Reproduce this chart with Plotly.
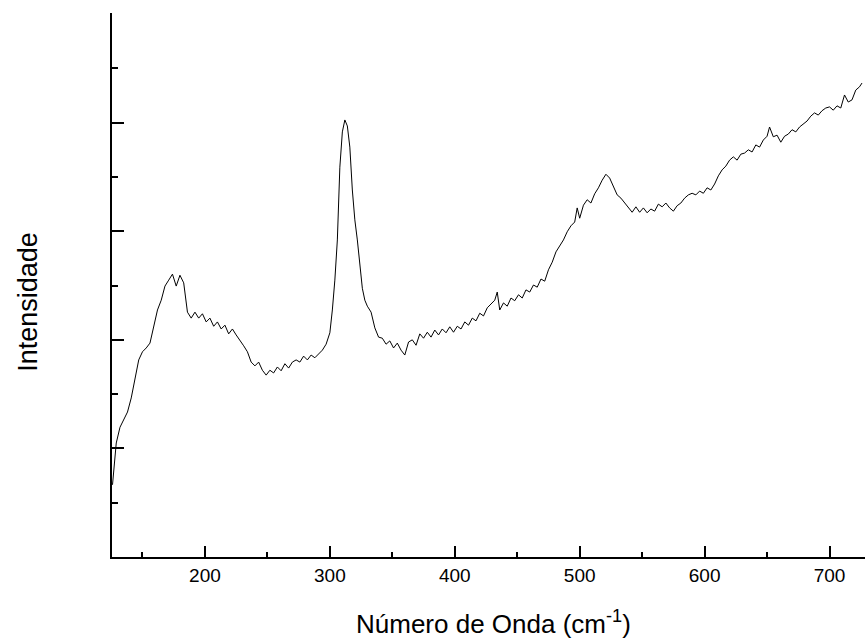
import plotly.graph_objects as go

wavenumber = [126, 129, 132, 135, 138, 141, 144, 147, 150, 153, 156, 159, 162, 165, 168, 171, 174, 177, 180, 183,
              186, 189, 192, 195, 198, 201, 204, 207, 210, 213, 216, 219, 222, 225, 228, 231, 234, 237, 240, 243,
              246, 249, 252, 255, 258, 261, 264, 267, 270, 273, 276, 279, 282, 285, 288, 291, 294, 297, 300, 302,
              304, 306, 308, 310, 312, 314, 316, 318, 320, 322, 324, 326, 328, 330, 333, 336, 339, 342, 345, 348,
              351, 354, 357, 360, 363, 366, 369, 372, 375, 378, 381, 384, 387, 390, 393, 396, 399, 402, 405, 408,
              411, 414, 417, 420, 423, 426, 429, 432, 434, 436, 439, 442, 445, 448, 451, 454, 457, 460, 463, 466,
              469, 472, 475, 478, 481, 484, 487, 490, 493, 496, 498, 500, 503, 506, 509, 512, 515, 518, 521, 524,
              527, 530, 533, 536, 539, 542, 545, 548, 551, 554, 557, 560, 563, 566, 569, 572, 575, 578, 581, 584,
              587, 590, 593, 596, 599, 602, 605, 608, 611, 614, 617, 620, 623, 626, 629, 632, 635, 638, 641, 644,
              647, 650, 652, 655, 658, 661, 664, 667, 670, 673, 676, 679, 682, 685, 688, 691, 694, 697, 700, 703,
              706, 709, 712, 715, 718, 721, 724, 726]

intensity = [133, 210, 239, 252, 267, 293, 330, 363, 378, 385, 394, 422, 455, 473, 499, 510, 521, 499, 519, 505,
             451, 440, 451, 440, 448, 433, 440, 425, 433, 420, 427, 411, 420, 409, 400, 389, 378, 359, 352, 359,
             344, 335, 344, 339, 350, 343, 356, 348, 359, 363, 359, 370, 363, 372, 367, 374, 381, 392, 413, 455,
             510, 584, 718, 783, 805, 794, 755, 676, 621, 584, 543, 495, 473, 462, 451, 422, 405, 403, 392, 398,
             385, 394, 381, 372, 396, 400, 390, 411, 403, 414, 405, 418, 409, 420, 413, 424, 414, 425, 420, 433,
             427, 440, 435, 449, 444, 459, 466, 473, 488, 455, 468, 462, 477, 472, 483, 477, 492, 488, 501, 497,
             512, 508, 529, 543, 562, 573, 584, 599, 610, 617, 643, 624, 648, 658, 652, 669, 680, 694, 705, 698,
             683, 667, 661, 652, 643, 635, 645, 635, 643, 634, 641, 637, 650, 645, 652, 643, 637, 647, 652, 661,
             667, 670, 667, 674, 670, 680, 676, 687, 702, 713, 720, 731, 737, 731, 742, 744, 750, 746, 759, 755,
             768, 775, 792, 774, 777, 764, 775, 779, 787, 783, 792, 798, 803, 812, 818, 814, 822, 827, 829, 823,
             831, 827, 851, 838, 842, 860, 866, 873]

x_ticks = [200, 300, 400, 500, 600, 700]
x_minor = [150, 250, 350, 450, 550, 650]
y_ticks = [200, 400, 600, 800]
y_minor = [100, 300, 500, 700, 900]
x_title = "Número de Onda (cm<sup>-1</sup>)"
y_title = "Intensidade"

FONT = "Liberation Sans, Arial, sans-serif"

fig = go.Figure()
fig.add_trace(go.Scatter(x=wavenumber, y=intensity, mode="lines",
                         line=dict(color="black", width=1), showlegend=False,
                         hoverinfo="x+y"))

fig.update_layout(
    width=865, height=641,
    margin=dict(l=112, r=0, t=13, b=84),
    paper_bgcolor="white", plot_bgcolor="white",
    font=dict(family=FONT, color="black"),
    xaxis=dict(range=[125.6, 728.4], tickvals=x_ticks, ticktext=[str(v) for v in x_ticks],
               ticks="inside", ticklen=11, tickwidth=2, tickcolor="black",
               showline=True, linecolor="black", linewidth=2, showgrid=False, zeroline=False,
               tickfont=dict(size=19, family=FONT),
               minor=dict(tickvals=x_minor, ticks="inside", ticklen=5, tickwidth=2, tickcolor="black", showgrid=False)),
    yaxis=dict(range=[0, 1002], tickvals=y_ticks, showticklabels=False,
               ticks="inside", ticklen=12, tickwidth=2, tickcolor="black",
               showline=True, linecolor="black", linewidth=2, showgrid=False, zeroline=False,
               minor=dict(tickvals=y_minor, ticks="inside", ticklen=6, tickwidth=2, tickcolor="black", showgrid=False)),
    annotations=[
        dict(text=x_title, xref="paper", yref="paper", x=0.506, y=-0.1195,
             xanchor="center", yanchor="middle", showarrow=False, font=dict(size=26, family=FONT)),
        dict(text=y_title, xref="paper", yref="paper", x=-0.1116, y=0.469, textangle=-90,
             xanchor="center", yanchor="middle", showarrow=False, font=dict(size=27, family=FONT)),
    ],
)

fig.write_html("out.html")
